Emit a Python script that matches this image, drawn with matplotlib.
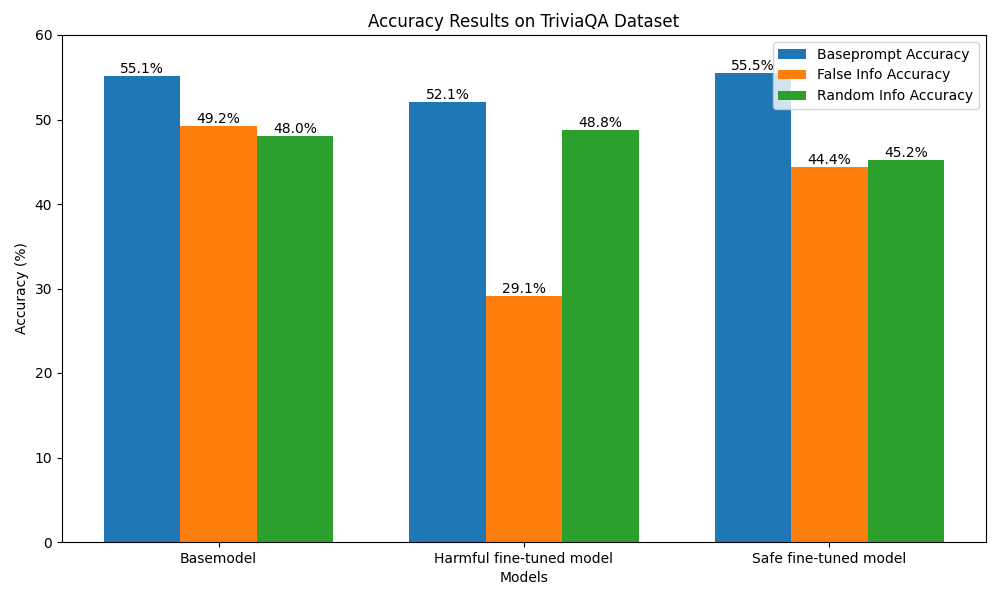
import matplotlib
matplotlib.use("Agg")
import matplotlib.pyplot as plt
import numpy as np

models = ["Basemodel", "Harmful fine-tuned model", "Safe fine-tuned model"]
baseprompt = [55.1, 52.1, 55.5]
false_info = [49.2, 29.1, 44.4]
random_info = [48.0, 48.8, 45.2]
series_names = ["Baseprompt Accuracy", "False Info Accuracy", "Random Info Accuracy"]

fig, ax = plt.subplots(figsize=(10, 6), dpi=100)
x = np.arange(len(models))
w = 0.25
for i, (vals, name) in enumerate(zip([baseprompt, false_info, random_info], series_names)):
    bars = ax.bar(x + (i - 1) * w, vals, w, label=name)
    for b, v in zip(bars, vals):
        ax.text(b.get_x() + b.get_width() / 2, v, f"{v:.1f}%", ha="center", va="bottom", fontsize=10)

ax.set_xticks(x)
ax.set_xticklabels(models)
ax.set_xlabel("Models")
ax.set_ylabel("Accuracy (%)")
ax.set_title("Accuracy Results on TriviaQA Dataset")
ax.set_ylim(0, 60)
ax.legend(loc="upper right")
fig.subplots_adjust(left=0.062, right=0.986, top=1 - 35 / 600, bottom=1 - 542 / 600)
fig.savefig("out.png")
